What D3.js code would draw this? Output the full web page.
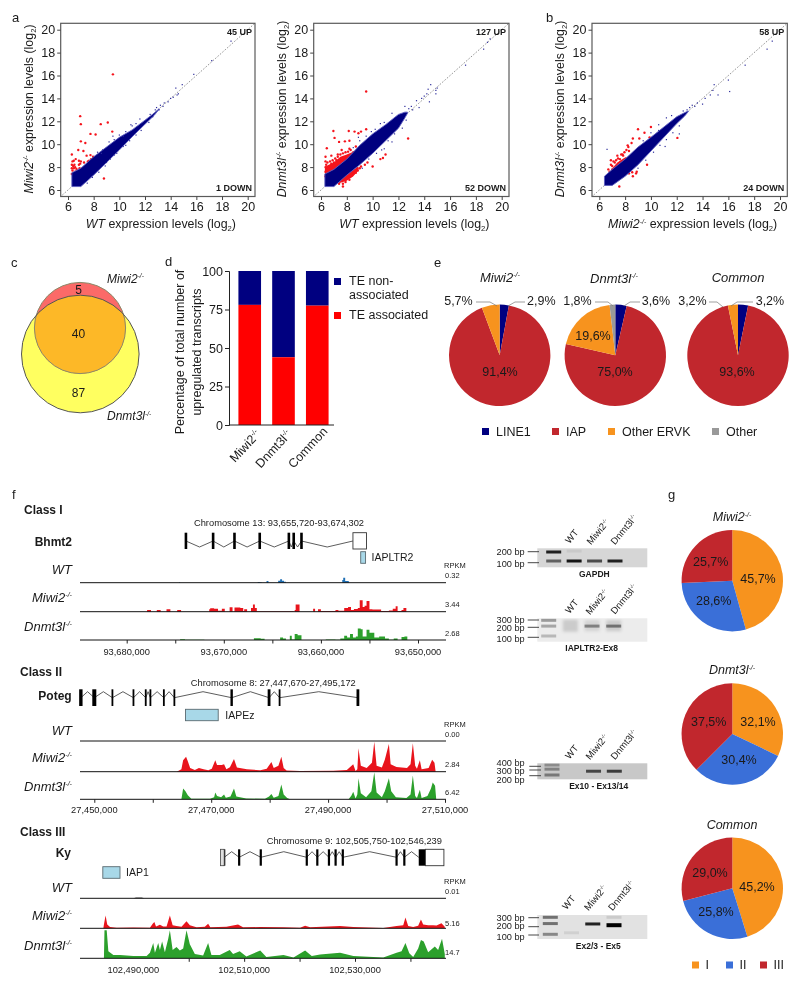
<!DOCTYPE html>
<html><head><meta charset="utf-8">
<style>html,body{margin:0;padding:0;background:#fff}svg{display:block;filter:blur(0.35px)}text{font-family:"Liberation Sans",Arial,sans-serif;fill:#1a1a1a}</style>
<script src="https://cdn.jsdelivr.net/npm/d3@7/dist/d3.min.js"></script>
</head><body><svg id="c" width="800" height="986"></svg>
<script>
// ---------- data: scatter panels (log2 expression) ----------
const scatterTicks=[6,8,10,12,14,16,18,20];
const cloudA1=[[6.3,6.3,7.5],[7,6.3,7.9],[8,7.3,8.9],[9,8.4,9.75],[10,9.5,10.6],[11,10.65,11.25],[12,11.75,12.1],[12.7,12.5,12.7],[13.1,13.05,13.1]];
const cloudA2=[[6.3,6.3,7.4],[7,6.3,7.8],[8,7.3,8.7],[9,8.2,9.9],[10,9.2,10.9],[11,10.3,11.7],[12,11.4,12.6],[12.5,12.3,12.8],[12.7,12.7,12.8]];
const cloudB=[[6.4,6.4,7.2],[7,6.4,7.8],[8,7.2,8.7],[9,8.2,9.75],[10,9.4,10.6],[11,10.6,11.5],[12,11.8,12.4],[12.6,12.45,12.75],[12.9,12.85,12.9]];
const redBandA2=[[6.3,7.0,8.0],[6.6,7.2,8.2],[7,7.5,8.4],[7.5,8,8.9],[8,8.5,9.1],[8.4,8.9,9.3]];
const redBandA2Low=[[7.4,6.6,6.9],[8,6.8,7.4],[8.5,7.2,7.8],[8.9,7.7,8.0]];
const redBandB=[[7,7.6,7.9],[7.4,7.9,8.4],[7.8,8.3,8.7],[8.1,8.6,8.9]];
const redA1=[[9.5,16.1],[6.95,12.45],[7,11.75],[8.55,11.75],[9.1,11.9],[9.45,11.1],[7.75,10.9],[8.15,10.85],[7,10.25],[7.35,10.1],[6.8,9.5],[7.2,9.4],[6.3,9.1],[7.45,9],[7.75,9.05],[7.95,8.9],[6.6,8.7],[6.35,8.5],[6.45,8.55],[6.85,8.55],[6.95,8.3],[7.25,8.4],[7.55,8.5],[7.65,8.55],[7.8,8.7],[6.3,8.2],[6.5,8.2],[6.3,7.9],[6.45,7.9],[6.55,8],[6.65,7.85],[6.9,7.9],[7.05,7.85],[6.3,7.4],[6.55,7.6],[6.6,7.35],[6.7,7.7],[7.2,7.7],[7.35,7.8],[8.8,7],[6.35,7.7],[6.6,7.5],[6.85,8.2],[7,8.5],[6.4,8.1]];
const redA2=[[9.5,14.6],[6.96,11.15],[7.05,10.55],[8.15,11.15],[8.6,11.1],[9.1,11.1],[9.5,11.3],[8.9,10.95],[6.45,9.65],[7.85,10.25],[8.2,10.3],[7.4,10.2],[8.2,9.6],[7.6,9.5],[7.3,9.1],[6.8,9],[6.35,8.9],[6.35,8.5],[7.7,6.3],[8.4,7.9],[8.85,7.7],[9.1,8.05],[9.4,8.2],[10,8.05],[10.6,8.7],[10.8,8.8],[11,9.1],[12.75,10.5],[8.7,7.5],[9,7.9],[9.6,8.4],[8.3,7.2],[7.4,6.55],[7.9,6.7],[6.5,8.4],[6.7,8.5],[6.9,8.6],[7.1,8.75],[7.3,8.9],[7.5,9.1],[7.7,9.2],[7.9,9.3],[8.1,9.35],[8.3,9.5],[8.5,9.3],[8.7,9.8],[6.4,8.2],[6.6,8.05],[6.8,8.3],[7,8.4],[7.2,8.6],[7.4,8.55],[6.35,7.2],[6.35,7.6],[6.35,8],[8.5,7.4],[8.2,6.9],[7.7,6.55],[8.8,7.9]];
const redB=[[9,11.3],[9.5,11.0],[10,11.5],[9.9,10.6],[8.6,10.5],[9.1,10.5],[8.5,10.1],[8.2,9.9],[8.3,9.4],[7.8,9.1],[7.4,9],[6.9,8.6],[6.9,8.2],[6.7,7.8],[7.1,8.5],[7.6,8.4],[12.05,10.55],[7.55,6.3],[8.6,7.2],[8.85,7.45],[8.9,7.6],[9.7,8.2],[8.3,7.45],[8.55,7.55],[7,8.1],[7.2,8.4],[7.3,8.6],[7.45,8.75],[7.6,8.7],[7.7,9.1],[7.85,9],[7.95,9.3],[8.1,9.5],[8.25,9.75],[6.8,7.6],[7,7.8]];
const blueA1=[[13.2,13.4],[13.5,13.6],[13.8,13.7],[14,14],[14.2,14.1],[14.4,14.9],[14.6,14.4],[14.9,15.2],[15.8,16.1],[17.2,17.3],[18.7,19],[14.5,14.3],[13.1,13],[12.9,13.2],[9.2,10.2],[9.6,10.4],[10,10.8],[10.5,11.1],[10.9,11.7],[11.3,11.8],[11.6,12.2],[8.6,9.2],[8.3,9.3],[9,8.4],[9.3,8.7],[9.8,9.2],[10.3,9.8],[10.8,10.3],[11.3,10.8],[11.7,11.2],[12.3,11.9],[12.6,12.4],[8.7,9.5],[9.5,10.7],[10.3,10.7],[11,11.6],[10.5,9.9],[9.6,9.05],[8.9,8.1],[8.4,7.55],[7.9,7.1],[7.5,6.6],[13.4,13.3],[12.8,13],[12.4,12.6]];
const blueA2=[[12.5,13.3],[13,13.3],[13.1,13],[13.4,13.8],[13.6,13.2],[14,14.2],[14.2,14.4],[14.3,14.8],[14.5,15.2],[14.4,13.7],[14.9,14.4],[14.9,14.7],[15,14.9],[17.2,16.9],[18.6,18.3],[18.9,18.9],[19.1,19.2],[13.8,14],[11.5,12.7],[10.9,11.9],[10.2,11.3],[9.5,10.7],[9,10.3],[8.5,9.7],[12.6,12.1],[12.3,11.4],[11.7,10.9],[11.2,10.3],[10.7,9.5],[10.3,9.2],[9.7,8.7],[9.2,7.9],[12.8,13.1],[10.6,11.8],[9.9,11.1],[8.9,10.6],[11.5,10.2],[10.9,9.6]];
const blueB=[[12.8,13],[13.2,13.4],[13.6,13.6],[14,13.5],[14.2,14],[14.6,14.3],[14.8,14.7],[14.9,15.2],[15.2,14.3],[16,15.6],[16.1,14.6],[17.3,16.9],[19,18.3],[19.4,19],[6.6,9.55],[13,13.2],[13.4,13.3],[11.2,12.3],[10.6,11.7],[10,11],[9.4,10.3],[12.2,11.6],[11.7,11],[11.2,10.4],[10.7,9.9],[10.2,9.3],[9.6,8.6],[9,7.9],[12.2,10.9],[11.1,9.8],[10.6,11.2],[11.6,12.5],[12.5,12.9]];
const scatterNotes=[["45 UP","1 DOWN"],["127 UP","52 DOWN"],["58 UP","24 DOWN"]];
// ---------- data: venn, bars, pies ----------
const vennCounts=[5,40,87];
const barCategories=["Miwi2","Dnmt3l","Common"];
const barTEAssociated=[78,44,77.5];
const barTicks=[0,25,50,75,100];
const teClasses=["LINE1","IAP","Other ERVK","Other"];
const pieMiwi2=[2.9,91.4,5.7,0];
const pieDnmt3l=[3.6,75,19.6,1.8];
const pieCommon=[3.2,93.6,3.2,0];
const ltrClasses=["I","II","III"];
const classMiwi2=[45.7,28.6,25.7];
const classDnmt3l=[32.1,30.4,37.5];
const classCommon=[45.2,25.8,29];
// ---------- data: tracks, positions in kb offsets, signal as percent of track max ----------
const bhmt2Exons=[73.9,71.1,68.9,66.3,63.3,62.8,62.0];
const bhmt2UTR=[56.7,55.3];
const bhmt2IAP=[55.9,55.4];
const potegExons=[47.7,50,53.1,56.7,58.8,59.6,61.9,63.7,73.5,79.9,81.7,95.1];
const potegIAP=[65.6,71.2];
const kyExons=[106.4,109.1,113,121.3,123.2,125.3,126.5,127.8,137.5,138.9];
const kyUTR=[141.5,142.7,146.04];
const kyIAP=[84.5,87.6];
const c1WT=[[83,0],[74.7,0],[74.6,8],[74.5,0],[66.6,0],[66.5,12],[66.3,8],[66.1,0],[65.8,0],[65.6,35],[65.4,0],[64.6,0],[64.4,40],[64.2,70],[64,40],[63.8,20],[63.6,0],[57.9,0],[57.8,55],[57.7,100],[57.5,35],[57.2,30],[57.1,0],[48,0]];
const c1Miwi2=[[83,0],[78,0],[77.9,15],[77.5,0],[76.9,14],[76.5,0],[75.9,20],[75.5,0],[74.8,15],[74.4,0],[71.6,0],[71.5,20],[71.4,28],[71,25],[70.6,8],[70.2,25],[69.9,0],[69.4,38],[69.1,0],[68.9,35],[68.3,30],[68,5],[67.9,20],[67.6,0],[67.2,30],[67,60],[66.8,30],[66.6,3],[62.8,0],[62.7,15],[62.6,60],[62.3,60],[62.2,0],[60.9,0],[60.8,25],[60.6,0],[60.3,20],[60,5],[59,5],[58.5,15],[58.2,8],[57.6,30],[57.2,40],[56.9,15],[56.6,22],[56.2,30],[56,95],[55.7,40],[55.5,50],[55.3,90],[55,20],[54.7,18],[54.2,18],[53.8,5],[53,10],[52.6,25],[52.3,45],[52.1,5],[51.7,15],[51.5,30],[51.2,0],[47,0]];
const c1Dnmt3l=[[83,0],[75,0],[74.5,6],[74,3],[72,0],[69,0],[67,0],[66.9,14],[66.2,10],[65.8,0],[64.5,0],[64.2,20],[63.9,12],[63.6,0],[63.2,35],[63,5],[62.7,50],[62.4,40],[62,0],[60,0],[59.5,4],[58.5,3],[58,12],[57.6,35],[57.3,20],[57,50],[56.7,20],[56.4,30],[56.2,95],[55.9,90],[55.7,30],[55.3,85],[55,60],[54.5,20],[54,30],[53.4,12],[53,3],[52.5,12],[52.1,0],[51.7,25],[51.4,30],[51.1,0],[47,0]];
const c2Miwi2=[[14.1,0],[14.9,8],[15.2,38],[15.7,50],[16,35],[16.4,12],[17.2,6],[17.9,12],[18.7,8],[19.5,5],[20.1,10],[20.7,38],[21,22],[21.8,22],[22.2,25],[22.6,8],[23.2,15],[23.9,42],[24.4,14],[26.1,8],[28.4,5],[29.5,10],[30.3,32],[30.7,12],[31.5,20],[32,50],[32.4,12],[32.9,4],[35.2,2],[40.9,3],[43.2,6],[44.3,25],[44.7,2],[45,8],[45.2,78],[45.6,20],[46.6,12],[47.5,30],[47.9,100],[48.3,20],[49.2,14],[49.7,40],[50.4,92],[50.7,25],[51.7,16],[53.5,12],[54.1,25],[54.5,95],[54.9,20],[55.2,10],[55.7,38],[56,8],[57.2,12],[57.8,40],[58.2,30],[58.4,0]];
const c2Dnmt3l=[[14.9,0],[15.2,40],[15.6,30],[16,15],[16.6,2],[19.8,2],[20.5,8],[20.7,25],[21,12],[21.7,8],[22.2,18],[22.5,6],[23.3,10],[23.9,40],[24.3,10],[26,3],[29.2,2],[29.9,10],[30.3,20],[30.7,6],[31.5,12],[32,55],[32.4,18],[33,5],[33.5,0],[43.5,0],[44,14],[44.3,28],[44.7,3],[45,18],[45.2,78],[45.6,22],[46.5,8],[47.4,30],[47.9,100],[48.3,25],[49.2,8],[49.7,30],[50.4,78],[50.8,30],[51.6,8],[53.4,5],[54.1,18],[54.5,88],[54.9,12],[55.2,5],[55.7,35],[56,5],[57,12],[57.6,40],[57.9,62],[58.3,50],[58.5,0]];
const c3Miwi2=[[84.6,0],[84.7,30],[85,100],[85.3,30],[85.8,10],[87,5],[90,6],[93,5],[93.5,35],[93.8,50],[94.1,15],[94.8,28],[95.4,15],[96,15],[96.6,100],[97.1,25],[97.8,18],[98.7,12],[99.6,55],[100.2,25],[101.4,8],[102.9,12],[103.5,35],[103.9,8],[106.8,12],[108.9,30],[109.8,8],[112.9,10],[117.1,8],[120.1,4],[121,20],[121.9,8],[127.3,18],[129.7,10],[135.1,2],[137.5,18],[138.7,25],[139.1,85],[139.6,18],[140.5,10],[141.4,20],[141.9,70],[142.3,30],[143.2,25],[144.1,25],[144.7,22],[145.6,40],[146.2,12]];
const c3Dnmt3l=[[84.7,0],[84.8,100],[85.2,100],[85.5,25],[86.4,12],[87.6,12],[90,8],[92.4,8],[93,20],[93.6,55],[93.9,20],[94.5,55],[94.8,30],[95.2,60],[95.7,22],[96.3,70],[96.6,100],[97.1,30],[97.8,40],[98.4,28],[99,35],[99.6,100],[100.2,50],[101.1,15],[102.6,10],[103.5,55],[104.1,12],[105.6,12],[107.4,30],[108,15],[109.2,25],[110.4,6],[112.9,28],[114,5],[117.1,12],[118.9,3],[121,28],[122.2,8],[123.7,14],[127.3,20],[129.7,8],[135.1,3],[137.5,20],[138.4,25],[139.1,55],[139.8,18],[140.5,5],[141.4,35],[141.9,65],[142.4,60],[143.2,22],[144.4,42],[145,30],[145.7,70],[146.2,15]];
const c3WTBlip=[[90,0],[90.5,100],[91.5,100],[92,0]];
const trackRPKM=[["0.32","3.44","2.68"],["0.00","2.84","6.42"],["0.01","5.16","14.7"]];
// ---------- data: gels (band: lane, size in bp, intensity, smear) ----------
const gelLanes=["WT","Miwi2","Dnmt3l"];
const gel1Bands=[[0,200,.85],[0,100,.55],[1,215,.06],[1,100,.9],[2,100,.65],[3,100,.85]];
const gel2Bands=[[0,300,.35],[0,200,.3],[0,100,.22],[1,205,.14,12],[2,205,.1,11],[2,200,.4],[3,205,.14,11],[3,200,.45]];
const gel3Bands=[[0,400,.3],[0,300,.35],[0,200,.4],[2,260,.65],[3,260,.7]];
const gel4Bands=[[0,300,.5],[0,200,.5],[0,100,.4],[1,110,.08,3],[2,195,.85],[3,300,.1],[3,180,1,4]];
const gelSizes=[[100,200],[100,200,300],[200,300,400],[100,200,300]];

// ---------- helpers ----------
const svg=d3.select("#c");
function txt(g,x,y,parts,o={}){
  const fs=o.fs||12;
  const t=g.append("text").attr("transform",`translate(${x},${y})`+(o.rot?` rotate(${o.rot})`:""))
    .attr("text-anchor",o.anchor||"start").attr("font-size",fs).attr("font-weight",o.bold?"bold":null);
  if(o.fill)t.style("fill",o.fill);
  if(typeof parts==="string")parts=[{t:parts}];
  let pending=.35*fs;
  parts.forEach(p=>{
    const s=t.append("tspan").text(p.t);
    if(p.i||o.italic)s.attr("font-style","italic");
    let shift=0;
    if(p.sup){s.attr("font-size",fs*.55);shift=-.38*fs;}
    if(p.sub){s.attr("font-size",fs*.62);shift=.22*fs;}
    s.attr("dy",pending+shift);
    pending=-shift;
  });
  return t;
}
const geno=n=>[{t:n,i:true},{t:"-/-",i:true,sup:true}];
const isGeno=n=>n==="Miwi2"||n==="Dnmt3l";
const nameParts=n=>isGeno(n)?geno(n):[{t:n,i:true}];
const palette={blue:"#00007f",edge:"#5c5cc0",red:"#f5141c"};

// ---------- panel letters ----------
[["a",12,17],["b",546,17],["c",11,262],["d",165,261],["e",434,262],["f",12,494],["g",668,494]].forEach(([l,x,y])=>txt(svg,x,y,l,{fs:13}));

// ---------- scatter ----------
function scatter(fx0,fx1,x6,x20,cloud,bands,red,blue,notes,xName,yName){
  const g=svg.append("g");
  const fy0=23.3,fy1=196.5;
  const x=d3.scaleLinear().domain([6,20]).range([x6,x20]);
  const y=d3.scaleLinear().domain([6,20]).range([190,29.7]);
  const id="cl"+Math.round(fx0);
  g.append("clipPath").attr("id",id).append("rect").attr("x",fx0).attr("y",fy0).attr("width",fx1-fx0).attr("height",fy1-fy0);
  const area=d3.area().x(d=>x(d[0])).y0(d=>y(d[1])).y1(d=>y(d[2]));
  g.append("line").attr("clip-path",`url(#${id})`).attr("x1",x(5)).attr("y1",y(5)).attr("x2",x(21)).attr("y2",y(21))
    .attr("stroke","#777").attr("stroke-width",.8).attr("stroke-dasharray","1.6 1.6");
  bands.forEach(b=>g.append("path").attr("d",area(b)).attr("fill",palette.red));
  red.forEach(d=>g.append("circle").attr("cx",x(d[0])).attr("cy",y(d[1])).attr("r",1.2).attr("fill",palette.red));
  g.append("path").attr("d",area(cloud)).attr("fill",palette.blue).attr("stroke",palette.edge).attr("stroke-width",.9);
  blue.forEach(d=>g.append("rect").attr("x",x(d[0])-.6).attr("y",y(d[1])-.6).attr("width",1.2).attr("height",1.2).attr("fill","#2a2a9a"));
  g.append("rect").attr("x",fx0).attr("y",fy0).attr("width",fx1-fx0).attr("height",fy1-fy0).attr("fill","none").attr("stroke","#5a5a5a").attr("stroke-width",1.2);
  const ax=g.append("g").attr("transform",`translate(0,${fy1})`).call(d3.axisBottom(x).tickValues(scatterTicks).tickSize(3.5).tickPadding(2).tickFormat(d3.format("d")));
  const ay=g.append("g").attr("transform",`translate(${fx0},0)`).call(d3.axisLeft(y).tickValues(scatterTicks).tickSize(3.5).tickPadding(2).tickFormat(d3.format("d")));
  [ax,ay].forEach(a=>{a.select(".domain").remove();a.selectAll("line").attr("stroke","#444");a.selectAll("text").attr("font-size",12.5).attr("font-family",null)});
  txt(g,fx1-3,32.3,notes[0],{fs:9,bold:true,anchor:"end"});
  txt(g,fx1-3,187.7,notes[1],{fs:9,bold:true,anchor:"end"});
  txt(g,(fx0+fx1)/2+3,224,[...nameParts(xName),{t:" expression levels (log"},{t:"2",sub:true},{t:")"}],{fs:12.4,anchor:"middle"});
  txt(g,fx0-32,109,[...nameParts(yName),{t:" expression levels (log"},{t:"2",sub:true},{t:")"}],{fs:12.4,anchor:"middle",rot:-90});
}
scatter(60.7,255,68,247.7,cloudA1,[],redA1,blueA1,scatterNotes[0],"WT","Miwi2");
scatter(313.7,509,321,501.7,cloudA2,[redBandA2,redBandA2Low],redA2,blueA2,scatterNotes[1],"WT","Dnmt3l");
scatter(592,787.3,599.3,780,cloudB,[redBandB],redB,blueB,scatterNotes[2],"Miwi2","Dnmt3l");

// ---------- venn ----------
(function(){
  const g=svg.append("g");
  const small={cx:80,cy:328,r:45.6},big={cx:80.3,cy:354,r:58.8};
  const c=(s,f)=>g.append("circle").attr("cx",s.cx).attr("cy",s.cy).attr("r",s.r).attr("fill",f);
  c(big,"#ffff60");c(small,"#fb6a68");
  g.append("clipPath").attr("id","vc").append("circle").attr("cx",big.cx).attr("cy",big.cy).attr("r",big.r);
  c(small,"#fdb827").attr("clip-path","url(#vc)");
  c(small,"none").attr("stroke","#8a8a6a").attr("stroke-width",1);
  c(big,"none").attr("stroke","#555").attr("stroke-width",1);
  txt(g,78.5,289.5,String(vennCounts[0]),{fs:12,anchor:"middle"});
  txt(g,78.5,333.5,String(vennCounts[1]),{fs:12,anchor:"middle"});
  txt(g,78.5,393,String(vennCounts[2]),{fs:12,anchor:"middle"});
  txt(g,107,278.5,geno("Miwi2"),{fs:12});
  txt(g,107,416,geno("Dnmt3l"),{fs:12});
})();

// ---------- stacked bars ----------
(function(){
  const g=svg.append("g");
  const y=d3.scaleLinear().domain([0,100]).range([425,271]);
  const x=d3.scaleBand().domain(barCategories).range([232,335]).paddingInner(.33).paddingOuter(.19);
  barCategories.forEach((c,i)=>{
    g.append("rect").attr("x",x(c)).attr("width",x.bandwidth()).attr("y",y(100)).attr("height",y(barTEAssociated[i])-y(100)).attr("fill","#000080");
    g.append("rect").attr("x",x(c)).attr("width",x.bandwidth()).attr("y",y(barTEAssociated[i])).attr("height",y(0)-y(barTEAssociated[i])).attr("fill","#ff0000");
  });
  const a=g.append("g").attr("transform","translate(229,0)").call(d3.axisLeft(y).tickValues(barTicks).tickSize(4).tickPadding(2));
  a.selectAll("text").attr("font-size",12.5).attr("font-family",null);
  a.selectAll("line,.domain").attr("stroke","#222");
  g.append("line").attr("x1",229).attr("x2",334).attr("y1",425).attr("y2",425).attr("stroke","#222");
  const ends=[258,289,325],tops=[432,432,429];
  barCategories.forEach((c,i)=>txt(g,ends[i],tops[i],isGeno(c)?[{t:c},{t:"-/-",sup:true}]:c,{fs:12.5,anchor:"end",rot:-47}));
  txt(g,180,352,"Percentage of total number of",{fs:12.5,anchor:"middle",rot:-90});
  txt(g,196.5,352,"upregulated transcripts",{fs:12.5,anchor:"middle",rot:-90});
  g.append("rect").attr("x",334).attr("y",278).attr("width",7).attr("height",7).attr("fill","#000080");
  g.append("rect").attr("x",334).attr("y",312).attr("width",7).attr("height",7).attr("fill","#ff0000");
  txt(g,349,281,"TE non-",{fs:12.5});txt(g,349,295,"associated",{fs:12.5});txt(g,349,315,"TE associated",{fs:12.5});
})();

// ---------- pies ----------
const teColors=["#000080","#c1272d","#f7931e","#999999"];
const lrColors=["#f7931e","#3a6fd8","#c1272d"];
function pie(cx,cy,vals,colors){
  const arcs=d3.pie().sort(null).value(d=>d)(vals);
  const arc=d3.arc().innerRadius(0).outerRadius(50.7);
  const g=svg.append("g").attr("transform",`translate(${cx},${cy})`);
  arcs.forEach((a,i)=>g.append("path").attr("d",arc(a)).attr("fill",colors[i]));
}
const leader=d3.line();
function lead(pts){svg.append("path").attr("d",leader(pts)).attr("fill","none").attr("stroke","#777").attr("stroke-width",.7);}
pie(499.7,355.3,pieMiwi2,teColors);
pie(615.3,355.3,pieDnmt3l,teColors);
pie(738,355.3,pieCommon,teColors);
const pct=v=>v.toFixed(1).replace(".",",")+"%";
txt(svg,500,277.5,geno("Miwi2"),{fs:13,anchor:"middle"});
txt(svg,614,278,geno("Dnmt3l"),{fs:13,anchor:"middle"});
txt(svg,738,277.5,[{t:"Common",i:true}],{fs:13,anchor:"middle"});
txt(svg,500,372,pct(pieMiwi2[1]),{fs:12.5,anchor:"middle"});
txt(svg,615,372,pct(pieDnmt3l[1]),{fs:12.5,anchor:"middle"});
txt(svg,593,335.5,pct(pieDnmt3l[2]),{fs:12.5,anchor:"middle"});
txt(svg,737,372,pct(pieCommon[1]),{fs:12.5,anchor:"middle"});
txt(svg,472.7,301,pct(pieMiwi2[2]),{fs:12.5,anchor:"end"});
txt(svg,527,301,pct(pieMiwi2[0]),{fs:12.5});
txt(svg,591.7,301,pct(pieDnmt3l[3]),{fs:12.5,anchor:"end"});
txt(svg,641.7,301,pct(pieDnmt3l[0]),{fs:12.5});
txt(svg,706.7,301,pct(pieCommon[2]),{fs:12.5,anchor:"end"});
txt(svg,755.7,301,pct(pieCommon[0]),{fs:12.5});
lead([[476,302],[490,302],[497,306]]);lead([[508,306],[515,302],[525,302]]);
lead([[595,302],[608,302],[613,306]]);lead([[624,306],[630,302],[640,302]]);
lead([[709,302],[717,302],[723,307]]);lead([[731,306],[737,302],[753,302]]);
[482,552,608,712].forEach((x,i)=>{
  svg.append("rect").attr("x",x).attr("y",428).attr("width",7).attr("height",7).attr("fill",teColors[i]);
  txt(svg,x+14,431.5,teClasses[i],{fs:12.5});
});
pie(732.3,580.7,classMiwi2,lrColors);
pie(732.3,734,classDnmt3l,lrColors);
pie(732.3,888.3,classCommon,lrColors);
txt(svg,732,517,geno("Miwi2"),{fs:12.5,anchor:"middle"});
txt(svg,732,670,geno("Dnmt3l"),{fs:12.5,anchor:"middle"});
txt(svg,732,825,[{t:"Common",i:true}],{fs:12.5,anchor:"middle"});
[[758,578.7,classMiwi2[0]],[713.7,601,classMiwi2[1]],[710.7,562,classMiwi2[2]],
 [758,721.7,classDnmt3l[0]],[739,760,classDnmt3l[1]],[708.7,721.7,classDnmt3l[2]],
 [757,886.7,classCommon[0]],[716,911.7,classCommon[1]],[710,873,classCommon[2]]].forEach(d=>txt(svg,d[0],d[1],pct(d[2]),{fs:12.5,anchor:"middle"}));
[692,726,760].forEach((x,i)=>{
  svg.append("rect").attr("x",x).attr("y",961.5).attr("width",7).attr("height",7).attr("fill",lrColors[i]);
  txt(svg,x+13.5,965,ltrClasses[i],{fs:12.5});
});

// ---------- genome tracks ----------
function trackSet(o){
  const g=svg.append("g");
  const x=d3.scaleLinear().domain(o.dom.map(d=>d*1000)).range(o.rng);
  const X=k=>x((o.base+k)*1000);
  txt(g,o.classX,o.classY,o.cls,{fs:12,bold:true});
  txt(g,o.nameX,o.nameY,o.gene,{fs:12,bold:true,anchor:"end"});
  txt(g,o.chromX,o.chromY,o.chrom,{fs:9.3,anchor:"middle"});
  // gene model
  const [gt,gb]=o.geneY,gm=o.zig[0],gp=o.zig[1];
  const ex=o.exons;
  const exonStops=o.utrStart!==undefined?[...ex,o.utrStart]:ex;
  const zig=[];
  for(let i=0;i<exonStops.length-1;i++){
    const a=X(exonStops[i]),b=X(exonStops[i+1]);
    zig.push([a,gm],[(a+b)/2,gp],[b,gm]);
  }
  g.append("path").attr("d",d3.line()(zig)).attr("fill","none").attr("stroke","#333").attr("stroke-width",.8);
  ex.forEach((k,i)=>g.append("rect").attr("x",X(k)-(o.exW[i]||o.exW.d)/2).attr("width",o.exW[i]||o.exW.d).attr("y",gt).attr("height",gb-gt).attr("fill","#000"));
  (o.extra||(()=>{}))(g,X,gt,gb);
  // repeat element
  const [i0,i1]=o.iap,[iy0,iy1]=o.iapY;
  const ix=[X(i0),X(i1)].sort(d3.ascending);
  g.append("rect").attr("x",ix[0]).attr("y",iy0).attr("width",ix[1]-ix[0]).attr("height",iy1-iy0).attr("fill","#a8d8e8").attr("stroke","#5a6a70").attr("stroke-width",.9);
  txt(g,ix[1]+o.iapDx,(iy0+iy1)/2,o.iapName,{fs:10.5});
  // tracks
  const names=["WT","Miwi2","Dnmt3l"],cols=["#1f78b4","#e8141c","#2ca02c"];
  names.forEach((n,i)=>{
    const b=o.base0[i];
    const y=d3.scaleLinear().domain([0,100]).range([b,b-o.h[i]]);
    if(o.tracks[i]){
      const area=d3.area().x(d=>X(d[0])).y0(b).y1(d=>y(d[1]));
      if(o.step)area.curve(d3.curveStepAfter);
      g.append("path").attr("d",area(o.tracks[i])).attr("fill",i===0&&o.wtColor?o.wtColor:cols[i]);
    }
    g.append("line").attr("x1",80).attr("x2",446).attr("y1",b).attr("y2",b).attr("stroke","#111").attr("stroke-width",1);
    txt(g,72,o.labelY[i],nameParts(n),{fs:13,anchor:"end"});
    txt(g,445,o.rpkmY[i],trackRPKM[o.idx][i],{fs:7.5});
  });
  txt(g,444,o.rpkmHead,"RPKM",{fs:7.5});
  // axis
  const axG=g.append("g").attr("transform",`translate(0,${o.base0[2]})`)
    .call(d3.axisBottom(x).tickValues(o.ticks.map(d=>d*1000)).tickSize(3.5).tickFormat(""));
  axG.select(".domain").remove();axG.selectAll("line").attr("stroke","#222");
  o.labels.forEach(v=>txt(g,x(v*1000),o.axisLabelY,d3.format(",")(v*1000),{fs:9.3,anchor:"middle"}));
}
trackSet({idx:0,step:true,dom:[93680,93650],rng:[126.7,418],base:93600,cls:"Class I",classX:24,classY:510,gene:"Bhmt2",nameX:72,nameY:541.7,
  chrom:"Chromosome 13: 93,655,720-93,674,302",chromX:279,chromY:523,geneY:[532.7,549],zig:[541,547],exons:bhmt2Exons,utrStart:bhmt2UTR[0],exW:{d:2.6},
  extra:(g,X,t,b)=>g.append("rect").attr("x",X(bhmt2UTR[0])).attr("y",t).attr("width",X(bhmt2UTR[1])-X(bhmt2UTR[0])).attr("height",b-t).attr("fill","#fff").attr("stroke","#333").attr("stroke-width",.9),
  iap:bhmt2IAP,iapY:[551.7,563.3],iapDx:6,iapName:"IAPLTR2",base0:[582.7,611.7,640],h:[5,12,12],tracks:[c1WT,c1Miwi2,c1Dnmt3l],wtColor:"#1f6fb4",
  labelY:[569,597.7,626.7],rpkmY:[575,604,633.3],rpkmHead:565,ticks:d3.range(93650,93685,5),labels:[93680,93670,93660,93650],axisLabelY:652});
trackSet({idx:1,dom:[27450,27510],rng:[94.3,445],base:27400,cls:"Class II",classX:20,classY:671.7,gene:"Poteg",nameX:71.7,nameY:696,
  chrom:"Chromosome 8: 27,447,670-27,495,172",chromX:273.3,chromY:682.3,geneY:[689.3,706],zig:[697.7,691.7],exons:potegExons,exW:{0:3.4,1:4,8:2.4,9:2.8,11:2.8,d:1.8},
  iap:potegIAP,iapY:[709.3,720.7],iapDx:7,iapName:"IAPEz",base0:[741,771.7,799.3],h:[0,30,27],tracks:[null,c2Miwi2.map(d=>[d[0]+50,d[1]]),c2Dnmt3l.map(d=>[d[0]+50,d[1]])],
  labelY:[730,757.3,786.7],rpkmY:[734.3,764,792.3],rpkmHead:724.3,ticks:d3.range(27450,27511,10),labels:[27450,27470,27490,27510],axisLabelY:809.3});
trackSet({idx:2,dom:[102490,102530],rng:[133.3,355],base:102400,cls:"Class III",classX:20,classY:831.7,gene:"Ky",nameX:71,nameY:852.7,
  chrom:"Chromosome 9: 102,505,750-102,546,239",chromX:354.3,chromY:841,geneY:[849.3,865.7],zig:[857.3,851.7],exons:kyExons,utrStart:kyUTR[0],exW:{d:2.2},
  extra:(g,X,t,b)=>{
    g.append("rect").attr("x",X(105.75)).attr("y",t).attr("width",X(106.4)-X(105.75)).attr("height",b-t).attr("fill","#e0e0e0").attr("stroke","#444").attr("stroke-width",.8);
    g.append("rect").attr("x",X(kyUTR[0])).attr("y",t).attr("width",X(kyUTR[1])-X(kyUTR[0])).attr("height",b-t).attr("fill","#000");
    g.append("rect").attr("x",X(kyUTR[1])).attr("y",t).attr("width",X(kyUTR[2])-X(kyUTR[1])).attr("height",b-t).attr("fill","#fff").attr("stroke","#333").attr("stroke-width",.9);
  },
  iap:kyIAP,iapY:[866.7,878.3],iapDx:6,iapName:"IAP1",base0:[898.3,928.3,958.3],h:[.8,12.7,28],tracks:[c3WTBlip,c3Miwi2,c3Dnmt3l],wtColor:"#444",
  labelY:[887.3,915,945],rpkmY:[891,923.3,952.3],rpkmHead:881.7,ticks:[102500,102510,102520,102530,102540],labels:[102490,102510,102530],axisLabelY:970});

// ---------- gels ----------
const defs=svg.append("defs");
defs.append("filter").attr("id","blur").attr("x","-20%").attr("y","-100%").attr("width","140%").attr("height","300%").append("feGaussianBlur").attr("stdDeviation",.7);
defs.append("filter").attr("id","smear").attr("x","-30%").attr("y","-60%").attr("width","160%").attr("height","220%").append("feGaussianBlur").attr("stdDeviation",1.8);
function gel(o){
  const g=svg.append("g");
  g.append("clipPath").attr("id","g"+o.y0).append("rect").attr("x",537.3).attr("y",o.y0).attr("width",110).attr("height",o.y1-o.y0);
  g.append("rect").attr("x",537.3).attr("y",o.y0).attr("width",110).attr("height",o.y1-o.y0).attr("fill",o.bg);
  const lx=d3.scaleLinear().domain([0,3]).range(o.lanes);
  const by=d3.scaleLog().domain(o.bpDom).range(o.bpRng);
  const holder=g.append("g").attr("clip-path",`url(#g${o.y0})`);
  const bands=holder.append("g").attr("filter","url(#blur)");
  const smears=holder.append("g").attr("filter","url(#smear)");
  o.bands.forEach(([l,bp,a,th])=>{
    const h=th||3;
    (h>5?smears:bands).append("rect").attr("x",lx(l)-7.5).attr("y",by(bp)-h/2).attr("width",15).attr("height",h).attr("fill","#000").attr("opacity",a);
  });
  o.sizes.forEach((s,i)=>{
    g.append("line").attr("x1",o.tickX[0]).attr("x2",o.tickX[1]).attr("y1",o.tickY[i]).attr("y2",o.tickY[i]).attr("stroke","#333").attr("stroke-width",.9);
    txt(g,524.7,o.textY[i],s+" bp",{fs:9.2,anchor:"end"});
  });
  gelLanes.forEach((n,i)=>txt(g,o.laneStart[i][0],o.laneStart[i][1],isGeno(n)?[{t:n},{t:"-/-",sup:true}]:n,{fs:9.5,rot:-50}));
  txt(g,o.capX,o.capY,o.cap,{fs:8.5,bold:true,anchor:"middle"});
}
gel({y0:548.3,y1:567.3,bg:"#d6d6d6",lanes:[553.7,615],bpDom:[100,200],bpRng:[561,552],bands:gel1Bands,sizes:[...gelSizes[0]].reverse(),tickX:[527.7,539],tickY:[551.7,562.7],textY:[551.7,564],
  laneStart:[[567,542],[588.5,543],[612.5,543]],cap:"GAPDH",capX:594.3,capY:574});
gel({y0:618.3,y1:641.7,bg:"#ececec",lanes:[548.7,613.7],bpDom:[100,300],bpRng:[636,620.3],bands:gel2Bands,sizes:[...gelSizes[1]].reverse(),tickX:[527.7,539],tickY:[620,627.3,637.3],textY:[619.4,627.9,638.3],
  laneStart:[[567,612],[587.5,613],[612.5,612.5]],cap:"IAPLTR2-Ex8",capX:591.7,capY:648.3});
gel({y0:763.3,y1:779.3,bg:"#c8c8c8",lanes:[552,614.3],bpDom:[200,400],bpRng:[775,765],bands:gel3Bands,sizes:[...gelSizes[2]].reverse(),tickX:[529.3,541],tickY:[766.3,770,775.7],textY:[762.3,771,780],
  laneStart:[[567,757.5],[587.5,758],[612.5,758]],cap:"Ex10 - Ex13/14",capX:598.7,capY:786});
gel({y0:915,y1:939,bg:"#e2e2e2",lanes:[550.3,614],bpDom:[100,300],bpRng:[934.3,917.3],bands:gel4Bands,sizes:[...gelSizes[3]].reverse(),tickX:[528.3,539],tickY:[917.7,926.7,935],textY:[917.3,926,936.7],
  laneStart:[[564,908],[586,909],[610,909]],cap:"Ex2/3 - Ex5",capX:598.3,capY:945.7});
</script></body></html>
